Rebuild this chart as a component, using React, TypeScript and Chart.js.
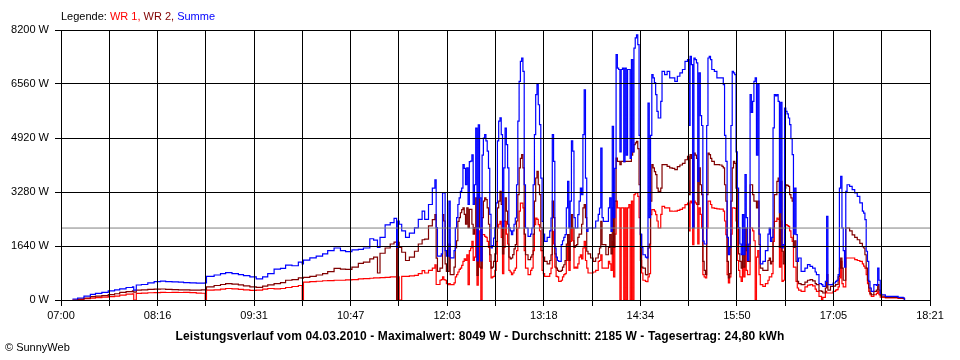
import React, { useEffect, useRef } from 'react';
import { Chart, registerables } from 'chart.js';

Chart.register(...registerables);

// minutes after 07:00
const minutes = [
  9, 13, 18, 23, 27, 32, 37, 42, 46, 51,
  56, 57, 59, 63, 68, 73, 78, 82, 87, 92,
  96, 101, 106, 110, 113, 114, 120, 125, 129, 134,
  139, 143, 148, 153, 158, 162, 167, 172, 176, 181,
  186, 189, 190, 195, 200, 205, 209, 214, 219, 223,
  228, 233, 237, 242, 245, 248, 250, 254, 258, 261,
  263, 264, 265, 267, 270, 273, 277, 280, 283, 285,
  288, 291, 293, 294, 295, 297, 298, 299, 300, 301,
  302, 303, 304, 305, 307, 308, 309, 310, 311, 312,
  313, 314, 315, 316, 317, 318, 319, 320, 321, 322,
  323, 324, 325, 326, 327, 328, 329, 330, 331, 332,
  333, 334, 335, 336, 337, 338, 339, 340, 341, 342,
  343, 344, 345, 346, 347, 348, 349, 350, 351, 352,
  353, 354, 355, 356, 357, 358, 359, 360, 361, 362,
  363, 364, 366, 368, 369, 370, 371, 372, 373, 374,
  375, 376, 377, 378, 379, 381, 383, 384, 385, 386,
  387, 388, 389, 390, 392, 393, 394, 395, 396, 397,
  398, 399, 400, 401, 402, 403, 404, 405, 406, 407,
  408, 409, 410, 411, 412, 413, 415, 417, 419, 421,
  422, 423, 424, 425, 427, 429, 430, 431, 432, 433,
  434, 435, 436, 437, 438, 439, 440, 441, 442, 443,
  444, 445, 446, 447, 448, 449, 450, 451, 452, 453,
  454, 455, 456, 458, 459, 460, 461, 462, 463, 464,
  465, 466, 467, 468, 469, 470, 471, 473, 475, 477,
  479, 481, 483, 485, 487, 489, 491, 492, 493, 494,
  495, 496, 497, 498, 499, 500, 501, 502, 503, 504,
  505, 506, 507, 508, 509, 510, 512, 514, 516, 518,
  519, 520, 521, 522, 523, 524, 525, 526, 527, 528,
  529, 530, 531, 532, 533, 534, 535, 536, 537, 538,
  539, 540, 541, 542, 543, 544, 545, 546, 547, 548,
  550, 552, 554, 555, 556, 557, 558, 559, 560, 561,
  562, 563, 564, 565, 566, 567, 568, 569, 570, 571,
  572, 573, 574, 575, 576, 577, 578, 580, 583, 585,
  587, 589, 591, 592, 594, 596, 597, 599, 600, 601,
  603, 605, 607, 608, 609, 610, 611, 612, 613, 614,
  615, 616, 618, 620, 622, 624, 626, 628, 629, 630,
  631, 632, 633, 634, 635, 637, 639, 640, 641, 642,
  643, 646, 651, 656, 660, 661,
];

const summe = [
  30, 60, 120, 170, 200, 230, 280, 310, 340, 380,
  400, 300, 455, 470, 520, 560, 575, 560, 550, 545,
  530, 520, 510, 510, 520, 720, 760, 800, 830, 800,
  770, 740, 700, 640, 700, 800, 940, 960, 1060, 1040,
  1150, 1100, 1210, 1280, 1330, 1400, 1500, 1580, 1500, 1470,
  1520, 1540, 1580, 1860, 1820, 1600, 1900, 2280, 2350, 2480,
  1600, 2400, 2300, 2100, 1900, 2030, 2190, 2450, 2700, 2450,
  2900, 3400, 3650, 2200, 1330, 1330, 1400, 3250, 3250, 1500,
  1330, 1330, 3000, 1280, 1275, 1500, 2190, 2500, 2900, 3100,
  3300, 3400, 4110, 4000, 3500, 4010, 2900, 4200, 4220, 4410,
  2900, 3500, 5220, 1190, 5320, 3100, 1190, 4400, 4920, 5020,
  4830, 4520, 4000, 2600, 1580, 1650, 1880, 2200, 2950, 4830,
  5430, 5530, 5020, 2187, 4010, 5220, 4720, 4010, 2190, 2100,
  1985, 2100, 2300, 2490, 3500, 5430, 6640, 7250, 7350, 6945,
  3500, 2187, 1935, 2000, 2187, 3500, 5020, 6235, 6540, 5930,
  5325, 3700, 2390, 2000, 1780, 1900, 2100, 2490, 5020, 4210,
  1580, 1300, 1200, 1175, 1680, 1800, 1900, 1985, 2800, 3605,
  2187, 3000, 4830, 4520, 2500, 2187, 2187, 2590, 3000, 3400,
  3200, 5020, 6385, 3700, 2085, 2187, 2187, 2187, 2400, 2600,
  2794, 4615, 2500, 2390, 2390, 2800, 3100, 2085, 5275, 2500,
  4000, 7450, 7045, 7000, 4500, 7000, 7045, 4200, 7045, 4400,
  7000, 7000, 4300, 7300, 4500, 7650, 7960, 8049, 7755, 5000,
  2000, 1600, 1375, 1300, 1275, 5980, 2500, 5000, 6845, 6745,
  6600, 6235, 5730, 5527, 5527, 6035, 6945, 6845, 6945, 6745,
  6743, 6640, 6795, 6900, 7000, 7250, 7300, 5300, 7400, 7150,
  2200, 7350, 7300, 7200, 3600, 6900, 5600, 5300, 1790, 1700,
  1700, 5300, 7350, 7400, 7300, 7000, 6945, 6745, 6745, 6745,
  6540, 5000, 4210, 1900, 1375, 1600, 5300, 6945, 6900, 6845,
  4500, 3400, 2200, 1700, 1375, 2590, 1375, 3805, 2500, 1200,
  1700, 6235, 5700, 6035, 6640, 6745, 4400, 6540, 2000, 1100,
  1175, 1500, 2000, 2187, 1780, 1900, 5225, 6235, 6200, 6235,
  6035, 2650, 6000, 1580, 1680, 5830, 5730, 5650, 5527, 5325,
  4900, 4415, 2000, 3400, 1985, 1175, 1275, 870, 970, 1073,
  1020, 970, 850, 770, 500, 465, 415, 567, 2540, 465,
  465, 516, 567, 600, 770, 3400, 3755, 2187, 1500, 1000,
  3300, 3500, 3450, 3350, 3250, 3150, 2950, 2700, 2640, 2440,
  1480, 1175, 567, 365, 263, 465, 440, 970, 600, 200,
  160, 110, 110, 80, 60, 0,
];

const wr2 = [
  0, 30, 60, 100, 115, 135, 165, 190, 230, 255,
  280, 240, 300, 305, 320, 330, 334, 325, 315, 310,
  305, 300, 300, 305, 310, 400, 440, 470, 500, 480,
  460, 430, 400, 385, 420, 460, 500, 530, 600, 620,
  670, 660, 690, 720, 760, 800, 860, 960, 940, 930,
  1000, 1110, 1150, 1250, 1300, 820, 1420, 1580, 1700, 1760,
  0, 1750, 1600, 1450, 1200, 1300, 1480, 1700, 1830, 1850,
  2250, 2440, 2590, 1270, 870, 970, 970, 2590, 2400, 1100,
  870, 870, 1700, 770, 770, 1000, 1580, 1800, 2390, 2500,
  2650, 2745, 2800, 2600, 2300, 2800, 2200, 2750, 2750, 2300,
  2000, 2200, 3100, 750, 3200, 2200, 970, 2500, 3000, 3100,
  3050, 2800, 2300, 1375, 970, 1000, 1175, 1400, 1780, 2800,
  3000, 3300, 2900, 1400, 2400, 3100, 2700, 2300, 1300, 1250,
  1275, 1380, 1550, 1680, 2400, 3200, 4010, 4300, 4413, 4010,
  2000, 1375, 1225, 1300, 1375, 2000, 3000, 3705, 3905, 3500,
  3200, 2200, 1500, 1300, 1175, 1100, 1200, 1375, 3000, 2500,
  1400, 970, 900, 870, 900, 1000, 1070, 1200, 1700, 1985,
  1200, 2187, 2590, 2187, 1600, 1650, 1680, 1900, 2000, 2000,
  2300, 2800, 2895, 2500, 1480, 1400, 1275, 1175, 1275, 1400,
  1580, 2390, 1680, 1680, 1375, 1600, 1985, 1400, 2800, 1600,
  3000, 4310, 4210, 4210, 4110, 4210, 4210, 4200, 4210, 4210,
  4210, 4210, 4210, 4400, 4500, 4717, 4770, 4820, 4600, 3500,
  1985, 1000, 970, 770, 760, 1580, 1700, 3000, 4110, 4010,
  3900, 3805, 3400, 3300, 3300, 3400, 4110, 4110, 4060, 4010,
  4000, 3960, 4050, 4100, 4150, 4260, 4360, 3200, 4413, 4300,
  2187, 4465, 4400, 4300, 2900, 4010, 3500, 3200, 1175, 900,
  770, 3200, 4465, 4413, 4300, 4210, 4110, 4110, 4100, 4060,
  4010, 3500, 3000, 1175, 668, 800, 3000, 4010, 4210, 4150,
  3400, 2200, 1400, 1175, 970, 1375, 1000, 2187, 1500, 1175,
  1175, 3500, 3500, 3200, 3000, 3000, 2800, 3000, 1680, 970,
  900, 900, 1200, 1275, 1100, 1175, 2187, 3200, 3200, 3605,
  3705, 1600, 3600, 1480, 1100, 3400, 3500, 3480, 3450, 3200,
  3100, 3000, 1600, 1800, 1175, 567, 500, 465, 540, 600,
  617, 580, 500, 465, 280, 263, 213, 365, 770, 300,
  415, 420, 465, 470, 700, 970, 1275, 970, 600, 600,
  2187, 2187, 2100, 1980, 1900, 1830, 1720, 1620, 1580, 1375,
  970, 600, 365, 200, 160, 263, 300, 465, 300, 150,
  120, 80, 80, 60, 50, 0,
];

const wr1 = [
  0, 20, 40, 55, 75, 90, 100, 120, 150, 180,
  190, 0, 203, 210, 220, 225, 230, 228, 230, 228,
  230, 225, 210, 205, 0, 300, 310, 330, 350, 340,
  320, 310, 290, 300, 330, 350, 340, 350, 380, 410,
  440, 0, 540, 560, 570, 585, 590, 600, 600, 610,
  620, 640, 650, 660, 670, 670, 680, 690, 700, 700,
  0, 700, 0, 720, 720, 730, 750, 800, 890, 820,
  900, 970, 1070, 470, 470, 600, 620, 700, 620, 600,
  500, 465, 500, 465, 465, 520, 700, 770, 850, 930,
  970, 1050, 1175, 1250, 1200, 1375, 465, 1500, 1580, 1780,
  1200, 1300, 2187, 450, 2100, 1000, 0, 1985, 1985, 1935,
  1900, 1780, 1600, 1175, 668, 700, 720, 900, 1175, 2187,
  2300, 2390, 1900, 800, 1600, 2390, 2000, 1700, 900, 850,
  770, 820, 900, 970, 1500, 2187, 2700, 2945, 2945, 2800,
  1500, 970, 770, 900, 970, 1500, 2290, 2490, 2450, 2290,
  2100, 1500, 900, 800, 720, 720, 800, 970, 2085, 1700,
  1000, 720, 700, 567, 600, 700, 770, 800, 1200, 1780,
  900, 1780, 2187, 1800, 970, 1000, 970, 1100, 1300, 1375,
  1250, 1580, 1780, 1200, 970, 820, 820, 850, 900, 1175,
  1200, 1375, 970, 970, 970, 1175, 1100, 900, 1780, 700,
  2000, 3000, 2795, 2795, 0, 2795, 2795, 0, 2795, 0,
  2795, 2900, 0, 3000, 0, 3200, 3250, 3250, 3150, 2500,
  1200, 820, 600, 567, 560, 700, 800, 2590, 2745, 2745,
  2700, 2590, 2400, 2187, 2187, 2600, 2845, 2795, 2795, 2700,
  2695, 2700, 2720, 2750, 2800, 2895, 2945, 2100, 3000, 2950,
  1680, 3000, 2950, 2900, 1700, 2795, 2600, 2187, 770, 700,
  668, 2187, 3000, 3000, 2900, 2795, 2780, 2770, 2760, 2760,
  2700, 2400, 1985, 770, 516, 700, 2000, 2795, 2795, 2780,
  2400, 1200, 900, 700, 567, 1000, 700, 1680, 900, 770,
  770, 2187, 2187, 2100, 1800, 0, 1300, 1500, 770, 465,
  415, 500, 600, 700, 700, 800, 1780, 2390, 2390, 2490,
  2450, 1000, 2400, 567, 600, 2290, 2290, 2260, 2235, 2100,
  1900, 1780, 1000, 1000, 567, 365, 300, 263, 400, 450,
  465, 430, 330, 263, 110, 0, 80, 263, 213, 213,
  213, 263, 300, 315, 400, 668, 1175, 500, 400, 400,
  1275, 1275, 1275, 1275, 1225, 1200, 1175, 1100, 1030, 970,
  770, 500, 263, 160, 110, 160, 200, 263, 160, 90,
  80, 60, 60, 45, 40, 0,
];

const xTickLabels = ['07:00', '08:16', '09:31', '10:47', '12:03', '13:18', '14:34', '15:50', '17:05', '18:21'];
const yTickValues = [0, 1640, 3280, 4920, 6560, 8200];
const spanMinutes = 681; // 07:00 .. 18:21
const gridDivisions = 18;
const average = 2185;

const legendParts = [
  { text: 'Legende: ', color: '#000000' },
  { text: 'WR 1, ', color: '#ff0000' },
  { text: 'WR 2, ', color: '#800000' },
  { text: 'Summe', color: '#0000ff' },
];
const titleText =
  'Leistungsverlauf vom 04.03.2010 - Maximalwert: 8049 W - Durchschnitt: 2185 W - Tagesertrag: 24,80 kWh';
const copyrightText = '\u00a9 SunnyWeb';

const FONT = 'Liberation Sans';

const textPlugin = {
  id: 'sunnyTexts',
  afterDraw(chart: any) {
    const ctx = chart.ctx;
    ctx.save();
    ctx.textBaseline = 'middle';
    ctx.font = `11px "${FONT}"`;
    let x = chart.chartArea.left;
    for (const p of legendParts) {
      ctx.fillStyle = p.color;
      ctx.fillText(p.text, x, 17);
      x += ctx.measureText(p.text).width;
    }
    ctx.fillStyle = '#000000';
    ctx.font = `bold 12px "${FONT}"`;
    try {
      (ctx as any).letterSpacing = '0.12px';
    } catch (e) {
      /* ignore */
    }
    ctx.textAlign = 'center';
    ctx.fillText(titleText, 480, 337);
    try {
      (ctx as any).letterSpacing = '0px';
    } catch (e) {
      /* ignore */
    }
    ctx.textAlign = 'left';
    ctx.font = `11px "${FONT}"`;
    ctx.fillText(copyrightText, 5, 348);
    ctx.restore();
  },
};

export default function App() {
  const canvasRef = useRef<HTMLCanvasElement | null>(null);

  useEffect(() => {
    const canvas = canvasRef.current;
    if (!canvas) return;
    const toPoints = (vals: number[]) => minutes.map((m, i) => ({ x: m, y: vals[i] }));
    const lineBase = { pointRadius: 0, borderWidth: 1.2, stepped: true as const, fill: false };
    const chart = new Chart(canvas, {
      type: 'line',
      data: {
        datasets: [
          {
            label: 'Durchschnitt',
            data: [
              { x: 0, y: average },
              { x: spanMinutes, y: average },
            ],
            borderColor: '#808080',
            borderWidth: 1,
            pointRadius: 0,
          },
          { label: 'Summe', data: toPoints(summe), borderColor: '#0000ff', ...lineBase },
          { label: 'WR 2', data: toPoints(wr2), borderColor: '#800000', ...lineBase },
          { label: 'WR 1', data: toPoints(wr1), borderColor: '#ff0000', ...lineBase },
        ],
      },
      options: {
        animation: false,
        responsive: false,
        maintainAspectRatio: false,
        devicePixelRatio: 1,
        events: [],
        layout: { padding: { top: 30, right: 30, left: 0, bottom: 0 } },
        plugins: { legend: { display: false }, tooltip: { enabled: false }, title: { display: false } },
        scales: {
          x: {
            type: 'linear',
            min: 0,
            max: spanMinutes,
            afterBuildTicks: (scale: any) => {
              const t = [];
              for (let i = 0; i <= gridDivisions; i++) t.push({ value: (i * spanMinutes) / gridDivisions });
              scale.ticks = t;
            },
            afterFit: (scale: any) => {
              scale.height = 60;
            },
            ticks: {
              autoSkip: false,
              maxRotation: 0,
              minRotation: 0,
              padding: 3,
              color: '#000000',
              font: { family: FONT, size: 11 },
              callback: (_v: any, i: number) => (i % 2 === 0 ? xTickLabels[i / 2] : ''),
            },
            grid: { color: '#000000', lineWidth: 1, tickLength: 6, drawTicks: true, z: 1 },
            border: { color: '#000000', z: 1 },
          },
          y: {
            type: 'linear',
            min: 0,
            max: 8200,
            afterBuildTicks: (scale: any) => {
              scale.ticks = yTickValues.map((v) => ({ value: v }));
            },
            afterFit: (scale: any) => {
              scale.width = 61;
            },
            ticks: {
              padding: 6,
              color: '#000000',
              font: { family: FONT, size: 11 },
              callback: (v: any) => `${v} W`,
            },
            grid: { color: '#000000', lineWidth: 1, tickLength: 6, drawTicks: true, z: 1 },
            border: { color: '#000000', z: 1 },
          },
        },
      },
      plugins: [textPlugin],
    });
    return () => chart.destroy();
  }, []);

  return (
    <div style={{ position: 'absolute', left: 0, top: 0, width: 960, height: 360, background: '#ffffff' }}>
      <canvas ref={canvasRef} width={960} height={360} style={{ display: 'block' }} />
    </div>
  );
}
